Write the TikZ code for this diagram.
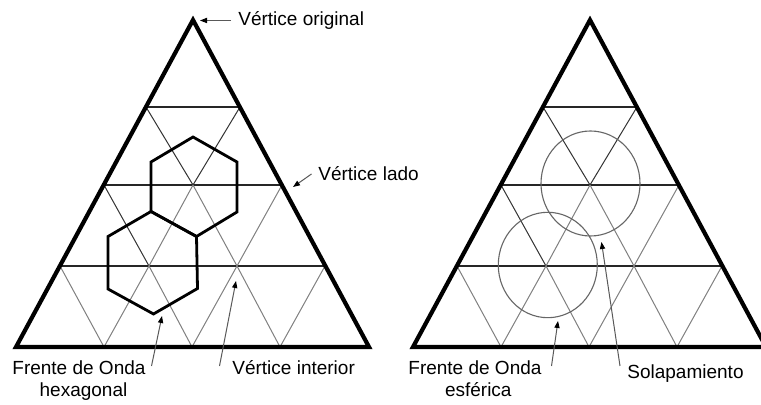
\documentclass[tikz,border=0pt]{standalone}
\usepackage{fontspec}
\setmainfont{Liberation Sans}
\usetikzlibrary{arrows.meta}
\tikzset{
  outer/.style={line width=2.1pt, line join=miter, black},
  hline/.style={line width=0.55pt, black!85},
  dline/.style={line width=0.5pt, black!80},
  gline/.style={line width=0.5pt, black!50},
  hexa/.style={line width=1.4pt, black, line join=miter},
  wave/.style={line width=0.55pt, black!60},
  lbl/.style={inner sep=0pt, font=\fontsize{9.5}{11}\selectfont},
  pointer/.style={draw=black!65, line width=0.5pt, -{Triangle[length=3.5pt,width=2.6pt,color=black]}}
}
\newcommand\mygrid{%
  % grid lines
  \draw[hline] (146,107) -- (240,107);
  \draw[hline] (104,185) -- (282,185);
  \draw[hline] (60,266) -- (325,266);
  % row 1 diagonals
  \draw[dline] (146,107) -- (193,185) -- (240,107);
  % row 2
  \draw[dline] (104,185) -- (149,266);
  \draw[gline] (193,185) -- (149,266);
  \draw[gline] (193,185) -- (237,266);
  \draw[gline] (282,185) -- (237,266);
  % row 3
  \draw[gline] (60,266) -- (104,347) -- (149,266) -- (192,347) -- (237,266) -- (280,347) -- (325,266);
  % outer triangle
  \draw[outer] (193,20) -- (16,347) -- (369,347) -- cycle;
}
\begin{document}
\begin{tikzpicture}[x=0.5pt,y=-0.5pt]
\useasboundingbox (0,0) rectangle (761,405);
\fill[white] (0,0) rectangle (761,405);
% left triangle
\mygrid
% hexagons
\draw[hexa] (193,137) -- (237,162) -- (237,212) -- (196.5,236.5) -- (151,211.5) -- (151,162) -- cycle;
\draw[hexa] (151,211.5) -- (196.5,236.5) -- (197.5,288.5) -- (153.5,314) -- (108,289) -- (108,236.5) -- cycle;
% right triangle
\begin{scope}[shift={(397,0)}]
\mygrid
\end{scope}
% circles
\draw[wave] (590.5,183.5) ellipse [x radius=49.5, y radius=52.5];
\draw[wave] (547.8,265) ellipse [x radius=49.5, y radius=52.7];
% labels
\node[lbl, anchor=base west] (lorig) at (238,26) {Vértice original};
\node[lbl, anchor=base west] (llado) at (318,181) {Vértice lado};
\node[lbl, anchor=base west] (lint) at (232,375) {Vértice interior};
\node[lbl, anchor=base west] (lhexA) at (12,375) {Frente de Onda};
\node[lbl, anchor=base] (lhexB) at (83.5,397) {hexagonal};
\node[lbl, anchor=base west] (lesfA) at (408,375) {Frente de Onda};
\node[lbl, anchor=base] (lesfB) at (478.3,397) {esférica};
\node[lbl, anchor=base west] (lsol) at (627,379) {Solapamiento};
% arrow end points
\coordinate (a1s) at (231,20.5); \coordinate (a1t) at (200,20.5);
\coordinate (a2s) at (311.5,174); \coordinate (a2t) at (293,187);
\coordinate (a3s) at (219.5,366); \coordinate (a3t) at (236,281);
\coordinate (a4s) at (151.5,366); \coordinate (a4t) at (162,316);
\coordinate (a5s) at (551.5,366); \coordinate (a5t) at (558,321);
\coordinate (a6s) at (620,366); \coordinate (a6t) at (601.5,242);
\draw[pointer] (a1s) -- (a1t);
\draw[pointer] (a2s) -- (a2t);
\draw[pointer] (a3s) -- (a3t);
\draw[pointer] (a4s) -- (a4t);
\draw[pointer] (a5s) -- (a5t);
\draw[pointer] (a6s) -- (a6t);
\end{tikzpicture}
\end{document}
